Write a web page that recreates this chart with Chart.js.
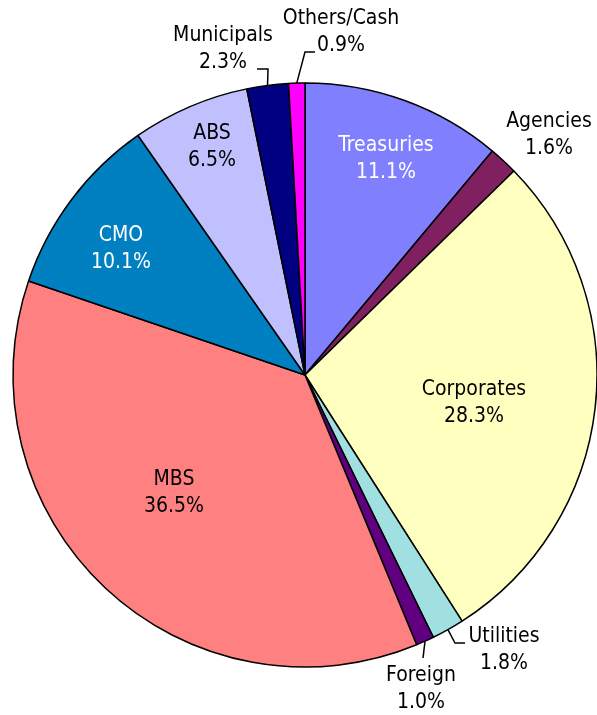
<!DOCTYPE html>
<html>
<head>
<meta charset="utf-8">
<script src="https://cdn.jsdelivr.net/npm/chart.js@4/dist/chart.umd.min.js"></script>
<style>
  html, body { margin: 0; padding: 0; background: #fff; }
  canvas { display: block; }
</style>
</head>
<body>
<canvas id="sectorChart" width="597" height="715"></canvas>
<script>
// Portfolio sector weights, clockwise from 12 o'clock
const sectors = ['Treasuries', 'Agencies', 'Corporates', 'Utilities', 'Foreign',
  'MBS', 'CMO', 'ABS', 'Municipals', 'Others/Cash'];
const weights = [11.1, 1.6, 28.3, 1.8, 1.0, 36.5, 10.1, 6.5, 2.3, 0.9];

const sliceColors = ['#8080FF', '#802060', '#FFFFC0', '#A0E0E0', '#600080',
  '#FF8080', '#0080C0', '#C0C0FF', '#000080', '#FF00FF'];

const FONT = '21px "DejaVu Sans Condensed", "DejaVu Sans", sans-serif';
const LINE_H = 27;

// label block centre, offset from the pie centre; leader bends likewise
const labelPlacement = [
  { dx: 81, dy: -216, color: '#fff' },
  { dx: 244, dy: -240 },
  { dx: 169, dy: 28 },
  { dx: 199, dy: 275, leader: [[150, 268], [160, 268]] },
  { dx: 116, dy: 314, leader: [[118, 283]] },
  { dx: -131, dy: 118 },
  { dx: -184, dy: -126, color: '#fff' },
  { dx: -93, dy: -228 },
  { dx: -82, dy: -326, leader: [[-37, -306], [-48, -306]] },
  { dx: 36, dy: -343, leader: [[0, -323], [10, -323]] }
];

const sliceLabels = {
  id: 'sliceLabels',
  afterDatasetsDraw(chart) {
    const ctx = chart.ctx;
    const meta = chart.getDatasetMeta(0);
    ctx.save();
    ctx.font = FONT;
    ctx.textAlign = 'center';
    ctx.textBaseline = 'middle';
    meta.data.forEach((arc, i) => {
      const p = labelPlacement[i];
      const mid = (arc.startAngle + arc.endAngle) / 2;
      const cx = arc.x, cy = arc.y, R = arc.outerRadius;
      if (p.leader) {
        ctx.beginPath();
        ctx.strokeStyle = '#000';
        ctx.lineWidth = 1.5;
        ctx.moveTo(cx + Math.cos(mid) * R, cy + Math.sin(mid) * R);
        p.leader.forEach(([lx, ly]) => ctx.lineTo(cx + lx, cy + ly));
        ctx.stroke();
      }
      const tx = cx + p.dx, ty = cy + p.dy;
      ctx.fillStyle = p.color || '#000';
      ctx.fillText(sectors[i], tx, ty - LINE_H / 2);
      ctx.fillText(weights[i].toFixed(1) + '%', tx, ty + LINE_H / 2);
    });
    ctx.restore();
  }
};

new Chart(document.getElementById('sectorChart'), {
  type: 'pie',
  data: {
    labels: sectors,
    datasets: [{
      data: weights,
      backgroundColor: sliceColors,
      borderColor: '#000',
      borderWidth: 1.5,
      radius: 292
    }]
  },
  options: {
    responsive: false,
    animation: false,
    layout: { padding: { left: 13, right: 0, top: 35, bottom: 0 } },
    plugins: {
      legend: { display: false },
      tooltip: { enabled: false }
    }
  },
  plugins: [sliceLabels]
});
</script>
</body>
</html>
